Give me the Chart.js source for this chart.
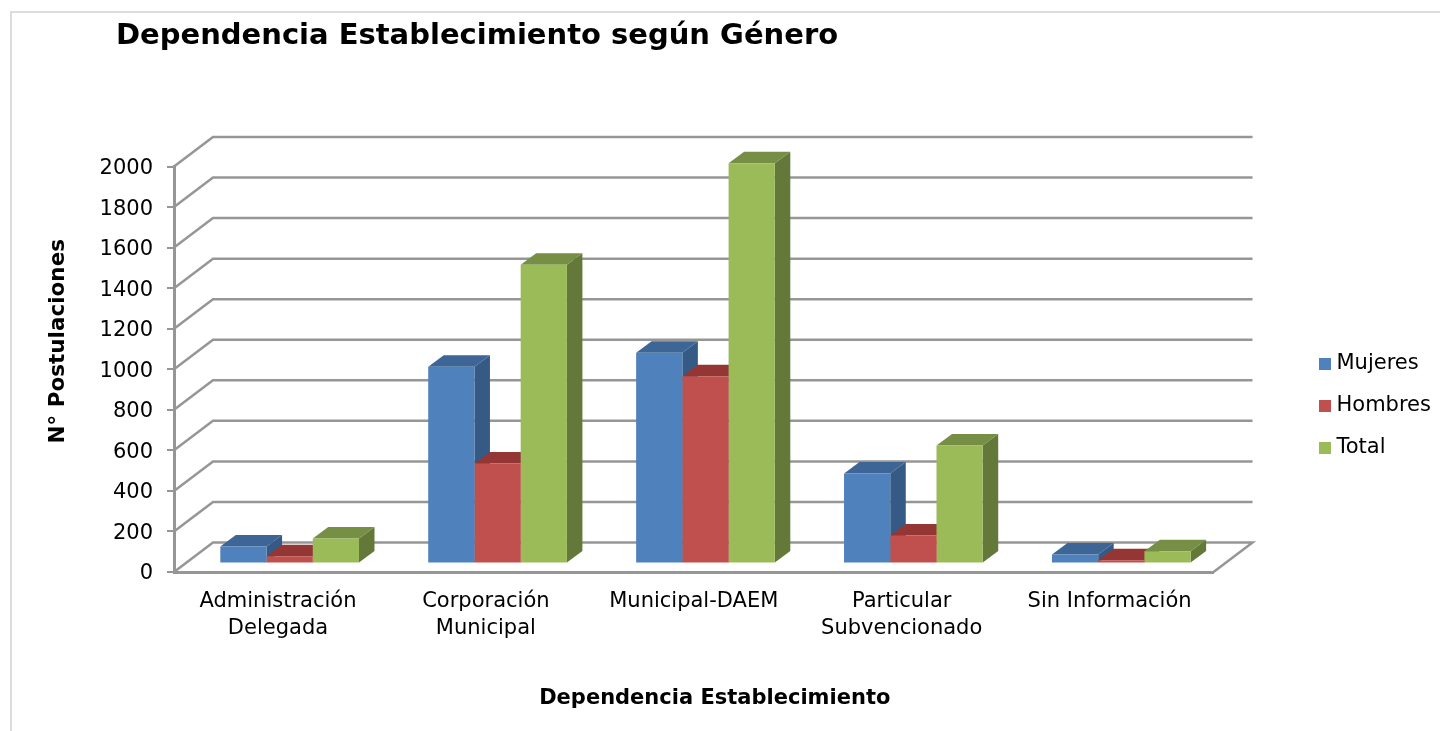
<!DOCTYPE html>
<html lang="es">
<head>
<meta charset="utf-8">
<title>Dependencia Establecimiento según Género</title>
<script src="https://cdn.jsdelivr.net/npm/chart.js@4"></script>
<style>
  html, body { margin: 0; padding: 0; background: #ffffff; overflow: hidden; }
  #marco { position: absolute; left: 10px; top: 11px; right: 0; bottom: 0; border-top: 2px solid #dcdcdc; border-left: 2px solid #dcdcdc; }
  #caja { position: absolute; left: 0; top: 0; width: 1440px; height: 731px; }
</style>
</head>
<body>
<div id="marco"></div>
<div id="caja"><canvas id="grafico" width="1440" height="731"></canvas></div>
<script>
// Datos
var categorias = [['Administración', 'Delegada'], ['Corporación', 'Municipal'], 'Municipal-DAEM', ['Particular', 'Subvencionado'], 'Sin Información'];
var mujeres = [84, 971, 1039, 444, 44];
var hombres = [36, 493, 924, 138, 16];
var total = [123, 1474, 1974, 582, 60];

var colorGrid = '#969696';
var fuente = '"DejaVu Sans", Verdana, sans-serif';

// Colores de las caras: frente, techo, lado
var caras = [
  { frente: '#4f81bd', techo: '#3d6595', lado: '#345a85' },
  { frente: '#c0504d', techo: '#943634', lado: '#843130' },
  { frente: '#9bbb59', techo: '#778f45', lado: '#637839' }
];

// Profundidad del piso/pared y de las barras
var fondoX = 39, fondoY = -29.5;
var barraX = 15.5, barraY = -11.5;
var despX = 11.7, despY = -8.5;

function poligono(ctx, puntos, color) {
  ctx.beginPath();
  ctx.moveTo(puntos[0][0], puntos[0][1]);
  for (var i = 1; i < puntos.length; i++) ctx.lineTo(puntos[i][0], puntos[i][1]);
  ctx.closePath();
  ctx.fillStyle = color;
  ctx.fill();
}

// Cuadrito de la leyenda (asi el texto queda mas cerca)
function cuadrito(color) {
  var c = document.createElement('canvas');
  c.width = 12;
  c.height = 12;
  var g = c.getContext('2d');
  g.fillStyle = color;
  g.fillRect(0, 0, 12, 12);
  return c;
}

// Corre el titulo de un eje sin tocar la escala
function moverTitulo(chart, escala, dx, dy) {
  if (escala.tituloMovido) return;
  escala.tituloMovido = true;
  var original = escala.drawTitle;
  escala.drawTitle = function() {
    chart.ctx.save();
    chart.ctx.translate(dx, dy);
    original.call(escala);
    chart.ctx.restore();
  };
}

var plugin3d = {
  id: 'plugin3d',
  afterLayout: function(chart) {
    // Titulo y leyenda en su lugar
    chart.titleBlock.left = 116;
    chart.legend.left = 1303;
    chart.legend.right = 1440;
    chart.legend.top = 332;
    chart.legend.bottom = 731;
    moverTitulo(chart, chart.scales.x, 21, 0);
    moverTitulo(chart, chart.scales.y, 0, -28);
  },
  beforeDatasetsDraw: function(chart) {
    var ctx = chart.ctx;
    var area = chart.chartArea;
    var y = chart.scales.y;

    // Pared del fondo
    ctx.save();
    ctx.strokeStyle = colorGrid;
    ctx.lineWidth = 2.5;
    ctx.lineJoin = 'miter';
    y.ticks.forEach(function(t) {
      var py = y.getPixelForValue(t.value);
      ctx.beginPath();
      ctx.moveTo(area.left, py);
      ctx.lineTo(area.left + fondoX, py + fondoY);
      ctx.lineTo(area.right + fondoX, py + fondoY);
      if (t.value === 0) ctx.lineTo(area.right, py);
      ctx.stroke();
    });
    ctx.restore();

    // Techo y lado de cada barra, los frentes los dibuja Chart.js encima
    ctx.save();
    ctx.translate(despX, despY);
    chart.data.datasets.forEach(function(ds, d) {
      chart.getDatasetMeta(d).data.forEach(function(b) {
        var p = b.getProps(['x', 'y', 'base', 'width'], true);
        var izq = p.x - p.width / 2, der = p.x + p.width / 2;
        poligono(ctx, [[der, p.y], [der + barraX, p.y + barraY], [der + barraX, p.base + barraY], [der, p.base]], caras[d].lado);
        poligono(ctx, [[izq, p.y], [izq + barraX, p.y + barraY], [der + barraX, p.y + barraY], [der, p.y]], caras[d].techo);
      });
    });
  },
  afterDatasetsDraw: function(chart) {
    chart.ctx.restore();
  }
};

var ctx = document.getElementById('grafico').getContext('2d');

var miGrafico = new Chart(ctx, {
  type: 'bar',
  data: {
    labels: categorias,
    datasets: [
      { label: 'Mujeres', data: mujeres, backgroundColor: caras[0].frente },
      { label: 'Hombres', data: hombres, backgroundColor: caras[1].frente },
      { label: 'Total', data: total, backgroundColor: caras[2].frente }
    ]
  },
  options: {
    responsive: false,
    animation: false,
    layout: { padding: { right: 88.5 } },
    datasets: { bar: { barPercentage: 1, categoryPercentage: 0.667, clip: false } },
    plugins: {
      title: {
        display: true,
        text: 'Dependencia Establecimiento según Género',
        align: 'start',
        color: '#000000',
        font: { family: fuente, size: 29, weight: 'bold', lineHeight: 1.2 },
        padding: { top: 19.1, bottom: 112.6 }
      },
      legend: {
        position: 'right',
        align: 'start',
        labels: {
          color: '#000000',
          font: { family: fuente, size: 21 },
          padding: 21,
          boxHeight: 12,
          usePointStyle: true,
          pointStyleWidth: 2,
          generateLabels: function(chart) {
            return Chart.defaults.plugins.legend.labels.generateLabels(chart).map(function(item, i) {
              item.pointStyle = cuadrito(caras[i].frente);
              return item;
            });
          }
        }
      },
      tooltip: { enabled: false }
    },
    scales: {
      x: {
        grid: { display: false },
        border: { color: colorGrid, width: 3 },
        ticks: {
          color: '#000000',
          font: { family: fuente, size: 21, lineHeight: 1.3 },
          padding: 8,
          maxRotation: 0,
          autoSkip: false
        },
        title: {
          display: true,
          text: 'Dependencia Establecimiento',
          color: '#000000',
          font: { family: fuente, size: 21, weight: 'bold', lineHeight: 1.2 },
          padding: { top: 0, bottom: 20 }
        },
        afterFit: function(scale) { scale.height = 159; }
      },
      y: {
        min: 0,
        max: 2000,
        grid: { drawOnChartArea: false, color: colorGrid, lineWidth: 2, tickLength: 7 },
        border: { color: colorGrid, width: 3 },
        ticks: {
          stepSize: 200,
          color: '#000000',
          font: { family: fuente, size: 21 },
          padding: 14,
          labelOffset: 2,
          callback: function(valor) { return String(valor); }
        },
        title: {
          display: true,
          text: 'N° Postulaciones',
          color: '#000000',
          font: { family: fuente, size: 21.5, weight: 'bold', lineHeight: 1.2 },
          padding: { top: 46, bottom: 0 }
        },
        afterFit: function(scale) { scale.width = 174; }
      }
    }
  },
  plugins: [plugin3d]
});
</script>
</body>
</html>
